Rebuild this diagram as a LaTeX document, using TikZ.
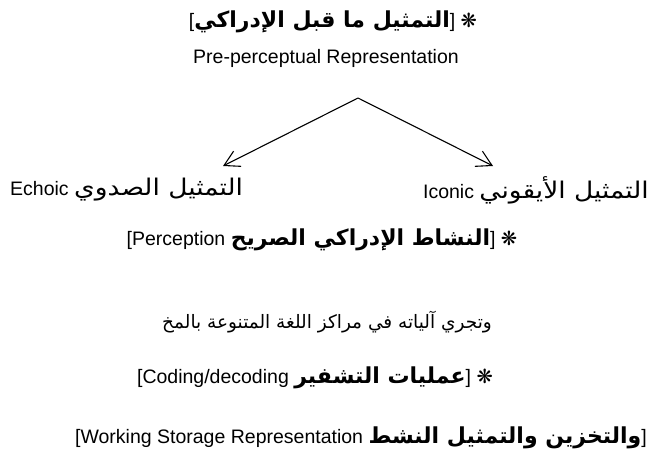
\documentclass[tikz,border=0pt]{standalone}
\usepackage{fontspec}
\setmainfont{Liberation Sans}
\newfontfamily\arabicfont[Script=Arabic]{DejaVu Sans}
\newfontfamily\arabicwide[Script=Arabic,FakeStretch=1.15]{DejaVu Sans}
\newfontfamily\symfont{DejaVu Sans}
\TeXXeTstate=1
\usetikzlibrary{arrows.meta}
\newcommand{\arbf}{\arabicfont\bfseries\fontsize{22}{26}\selectfont}
\newcommand{\starsym}{{\symfont ❋}}

\tikzset{
  txt/.style={inner sep=0pt, font=\fontsize{19.5}{23}\selectfont},
  branch/.style={line width=1.1pt, -{Straight Barb[length=15pt,width=17pt]}}
}

\begin{document}
\begin{tikzpicture}[x=1pt,y=-1pt]
\useasboundingbox (0,0) rectangle (651,466);

\node[txt] (title) at (333,22) {[{\arbf\beginR التمثيل ما قبل الإدراكي\endR}] \starsym};
\node[txt] (pre) at (326,58) {Pre-perceptual Representation};

\coordinate (apex) at (358,98);
\coordinate (tipL) at (223,166);
\coordinate (tipR) at (493,166);
\draw[branch] (apex) -- (tipL);
\draw[branch] (apex) -- (tipR);

\node[txt, anchor=west] (echoic) at (10,190) {Echoic {\arabicwide\fontsize{23}{27}\selectfont\beginR التمثيل الصدوي\endR}};
\node[txt, anchor=east] (iconic) at (649,190) {Iconic {\arabicwide\fontsize{23}{27}\selectfont\beginR التمثيل الأيقوني\endR}};

\node[txt] (percept) at (322,240) {[Perception {\arbf\beginR النشاط الإدراكي الصريح\endR}] \starsym};
\node[txt] (mech) at (327,322) {{\arabicfont\fontsize{18.5}{22}\selectfont\beginR وتجري آلياته في مراكز اللغة المتنوعة بالمخ\endR}};
\node[txt] (coding) at (315,378) {[Coding/decoding {\arbf\beginR عمليات التشفير\endR}] \starsym};
\node[txt] (storage) at (361,438) {[Working Storage Representation {\arbf\beginR والتخزين والتمثيل النشط\endR}]};

\end{tikzpicture}
\end{document}
